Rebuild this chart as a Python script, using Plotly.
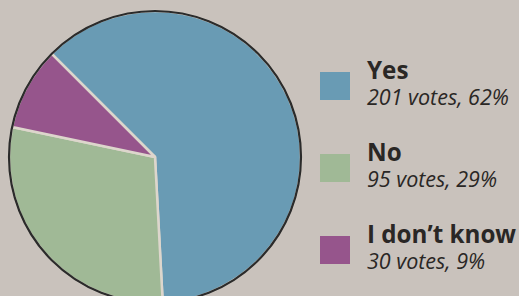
import plotly.graph_objects as go

# ---- data ----
categories = ["Yes", "No", "I don\u2019t know"]
votes = [201, 95, 30]
percents = [62, 29, 9]
colors = ["#699bb4", "#a0b996", "#96558c"]

W, H = 519, 306          # taller than the 296px window: the pie is cut at the bottom
BG = "#c9c2bc"
TEXT = "#2a2725"

def px(x):
    return x / W

def py(y):
    return 1 - y / H

# pie geometry (pixels)
cx, cy, r = 155, 157, 146

fig = go.Figure()
dom = dict(x=[px(cx - r), px(cx + r)], y=[py(cy + r), py(cy - r)])
fig.add_trace(go.Pie(
    labels=categories, values=votes, sort=False, direction="clockwise",
    rotation=-45, textinfo="none", hoverinfo="label+value",
    marker=dict(colors=colors, line=dict(color="#ddd6cc", width=2.5)),
    domain=dom, showlegend=False,
))
fig.add_trace(go.Pie(
    labels=["outline"], values=[1], sort=False, textinfo="none", hoverinfo="skip",
    marker=dict(colors=["rgba(0,0,0,0)"], line=dict(color="#2b2b2b", width=2.2)),
    domain=dom, showlegend=False,
))

shapes = []
annotations = []
sq_x0, sq_x1, sq_h = 320, 350, 28
base_y, step = 86, 82
for i, (cat, v, p, c) in enumerate(zip(categories, votes, percents, colors)):
    yc = base_y + i * step
    shapes.append(dict(type="rect", xref="paper", yref="paper",
                       x0=px(sq_x0), x1=px(sq_x1), y0=py(yc + sq_h / 2), y1=py(yc - sq_h / 2),
                       fillcolor=c, line=dict(width=0)))
    annotations.append(dict(xref="paper", yref="paper", x=px(366), y=py(yc - 16.5),
                            xanchor="left", yanchor="middle", showarrow=False, borderpad=0,
                            text=f"<b>{cat}</b>",
                            font=dict(family="Open Sans", size=24.2, color=TEXT)))
    annotations.append(dict(xref="paper", yref="paper", x=px(366), y=py(yc + 10),
                            xanchor="left", yanchor="middle", showarrow=False, borderpad=0,
                            text=f"<i>{v} votes, {p}%</i>",
                            font=dict(family="Open Sans", size=21.5, color=TEXT)))

fig.update_layout(width=W, height=H, margin=dict(l=0, r=0, t=0, b=0),
                  paper_bgcolor=BG, plot_bgcolor=BG, shapes=shapes,
                  annotations=annotations)
fig.write_html(
    "out.html",
    config={"displayModeBar": False},
    post_script="document.body.style.margin='0';"
                "document.body.style.overflow='hidden';"
                f"document.body.style.background='{BG}';",
)
